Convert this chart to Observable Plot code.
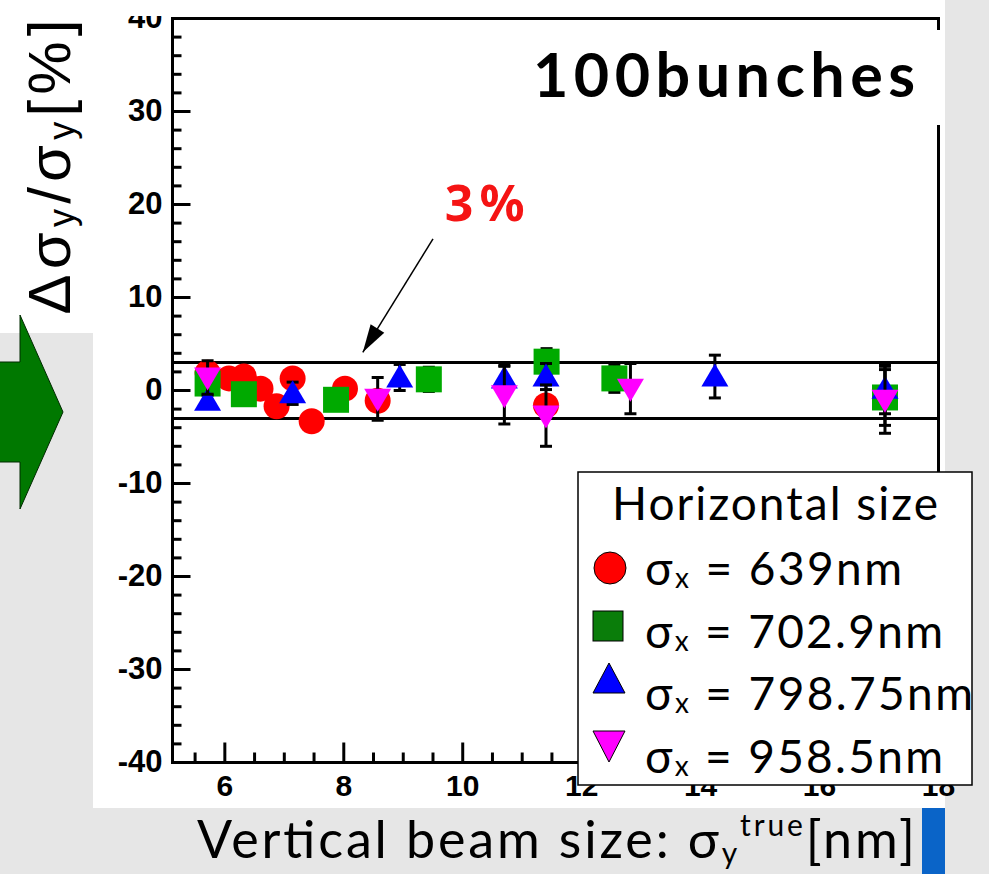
<!DOCTYPE html>
<html><head><meta charset="utf-8">
<script src="https://cdn.jsdelivr.net/npm/d3@7"></script>
<script src="https://cdn.jsdelivr.net/npm/@observablehq/plot@0.6"></script>
<style>
html,body{margin:0;padding:0;background:#e6e6e6;}
#wrap{position:relative;width:989px;height:874px;overflow:hidden;background:#e6e6e6;}
.layer{position:absolute;left:0;top:0;}
</style></head><body><div id="wrap">
<div class="layer" style="left:93px;top:0;width:852px;height:808px;background:#fff"></div>
<div class="layer" style="left:0;top:0;width:93px;height:333px;background:#fff"></div>
<svg class="layer" width="989" height="874"><polygon points="-5,362 20,362 20,315 63,412 20,509 20,462 -5,462" fill="#007800" stroke="#002a00" stroke-width="1"/></svg>
<div id="plot" class="layer"></div>
<svg id="over" class="layer" width="989" height="874" font-family="Lato, 'Noto Sans', sans-serif">
  <rect x="93" y="0" width="79" height="16" fill="#fff"/>
  <text transform="translate(70,167) rotate(-90)" text-anchor="middle" font-family="'Liberation Sans', Arial, sans-serif" font-size="60" textLength="295" lengthAdjust="spacing">Δσ<tspan font-size="36" dy="4">y</tspan><tspan dy="-4">/σ</tspan><tspan font-size="36" dy="4">y</tspan><tspan dy="-4">[%]</tspan></text>
  <text x="197" y="858" font-size="52" textLength="718" lengthAdjust="spacing">Vertical beam size: σ<tspan font-size="30" dy="6">y</tspan><tspan font-size="30" dy="-28">true</tspan><tspan dy="22">[nm]</tspan></text>
  <rect x="520" y="30" width="425" height="95" fill="#fff"/>
  <text x="533" y="97" font-size="61" font-weight="700" textLength="382" lengthAdjust="spacing">100bunches</text>
  <rect x="578" y="472" width="394" height="313" fill="#fff" stroke="#000" stroke-width="1.5"/>
  <text x="612" y="520" font-size="46" textLength="326" lengthAdjust="spacing">Horizontal size</text>
  <circle cx="610" cy="568" r="16" fill="#ff0000" stroke="#000" stroke-width="1"/>
  <rect x="593" y="611" width="30" height="30" fill="#0a7d0a" stroke="#000" stroke-width="1"/>
  <polygon points="609,663 625,693 593,693" fill="#0000ff" stroke="#000" stroke-width="1"/>
  <polygon points="593,731 625,731 609,762" fill="#ff00ff" stroke="#000" stroke-width="1"/>
  <text x="645" y="585" font-size="46" textLength="257" lengthAdjust="spacing">σ<tspan font-size="28" dy="3">x</tspan><tspan dy="-3"> = 639nm</tspan></text>
  <text x="645" y="648" font-size="46" textLength="298" lengthAdjust="spacing">σ<tspan font-size="28" dy="3">x</tspan><tspan dy="-3"> = 702.9nm</tspan></text>
  <text x="645" y="710" font-size="46" textLength="328" lengthAdjust="spacing">σ<tspan font-size="28" dy="3">x</tspan><tspan dy="-3"> = 798.75nm</tspan></text>
  <text x="645" y="773" font-size="46" textLength="298" lengthAdjust="spacing">σ<tspan font-size="28" dy="3">x</tspan><tspan dy="-3"> = 958.5nm</tspan></text>
  <rect x="922" y="808" width="23" height="66" fill="#0a64c8"/>
</svg>
</div>
<script>
// ---- data ----
const redX = [5.71, 6.07, 6.32, 6.6, 6.87, 7.14, 7.46, 8.02, 8.57, 11.4];
const redY = [1.9, 1.3, 1.5, 0.2, -1.7, 1.3, -3.3, 0.2, -1.1, -1.6];
const redErr = [0.3, 0.3, 0.3, 0.3, 0.3, 0.3, 0.3, 0.3, 0.3, 0.9];

const greenX = [5.71, 6.32, 7.87, 9.43, 11.41, 12.55, 17.1];
const greenY = [0.75, -0.4, -1.0, 1.2, 3.1, 1.3, -0.75];
const greenErr = [0.6, 0.4, 0.4, 1.3, 1.4, 1.5, 3.0];

const blueX = [5.71, 7.14, 8.94, 10.7, 11.4, 14.24, 17.1];
const blueY = [-1.1, -0.3, 1.4, 1.3, 1.5, 1.5, 0.2];
const blueErr = [0.6, 1.2, 1.4, 1.4, 1.4, 2.3, 2.7];

const magentaX = [5.71, 8.57, 10.7, 11.4, 12.82, 17.1];
const magentaY = [1.4, -0.9, -0.5, -2.7, 0.2, -1.0];
const magentaErr = [1.8, 2.3, 3.1, 3.3, 2.7, 3.6];

const bandLines = [3, -3];
const xDomain = [5.12, 18];
const yDomain = [-40, 40];
const xMajor = [6, 8, 10, 12, 14, 16, 18];
const xMinor = [5.5, 6.5, 7, 7.5, 8.5, 9, 9.5, 10.5, 11, 11.5, 12.5, 13, 13.5, 14.5, 15, 15.5, 16.5, 17, 17.5];
const yMajor = [-40, -30, -20, -10, 0, 10, 20, 30, 40];
const yMinor = [-38, -36, -34, -32, -28, -26, -24, -22, -18, -16, -14, -12, -8, -6, -4, -2,
                2, 4, 6, 8, 12, 14, 16, 18, 22, 24, 26, 28, 32, 34, 36, 38];
const annotationText = ["3%"];
const annotationPos = [10.42, 19.9];
const arrowStart = [9.50, 16.3];
const arrowEnd = [8.32, 4.1];

// ---- build tables ----
const table = (xs, ys, es, s) => xs.map((x, i) => ({x, y: ys[i], e: es[i], s}));
const red = table(redX, redY, redErr, "red");
const green = table(greenX, greenY, greenErr, "green");
const blue = table(blueX, blueY, blueErr, "blue");
const magenta = table(magentaX, magentaY, magentaErr, "magenta");

const circleSym = {draw(c) { c.moveTo(13, 0); c.arc(0, 0, 13, 0, 2 * Math.PI); }};
const squareSym = {draw(c) { c.rect(-13, -13, 26, 26); }};
const triUp = {draw(c) { c.moveTo(0, -13); c.lineTo(13.5, 10); c.lineTo(-13.5, 10); c.closePath(); }};
const triDown = {draw(c) { c.moveTo(0, 13); c.lineTo(13.5, -10); c.lineTo(-13.5, -10); c.closePath(); }};
const capSym = {draw(c) { c.moveTo(-6, 0); c.lineTo(6, 0); }};
const headSym = {draw(c) { c.moveTo(0, 0); c.lineTo(-8, 28); c.lineTo(8, 28); c.closePath(); }};
const yTickMajor = {draw(c) { c.moveTo(0, 0); c.lineTo(18, 0); }};
const yTickMinor = {draw(c) { c.moveTo(0, 0); c.lineTo(9, 0); }};
const xTickMajor = {draw(c) { c.moveTo(0, 0); c.lineTo(0, -20); }};
const xTickMinor = {draw(c) { c.moveTo(0, 0); c.lineTo(0, -10); }};

const errorMarks = (rows) => [
  Plot.ruleX(rows, {x: "x", y1: d => d.y - d.e, y2: d => d.y + d.e, stroke: "black", strokeWidth: 3}),
  Plot.dot(rows, {x: "x", y: d => d.y + d.e, symbol: capSym, stroke: "black", strokeWidth: 3, fill: "none"}),
  Plot.dot(rows, {x: "x", y: d => d.y - d.e, symbol: capSym, stroke: "black", strokeWidth: 3, fill: "none"})
];
const tickStyle = {stroke: "black", strokeWidth: 3, fill: "none"};

const chart = Plot.plot({
  width: 989, height: 874,
  marginLeft: 172, marginRight: 51, marginTop: 18, marginBottom: 112,
  x: {domain: xDomain, axis: null},
  y: {domain: yDomain, axis: null},
  style: {background: "transparent", overflow: "visible", fontFamily: "'Liberation Sans', Arial, sans-serif"},
  marks: [
    Plot.ruleY(bandLines, {stroke: "black", strokeWidth: 3}),
    ...errorMarks(red),
    Plot.dot(red, {x: "x", y: "y", symbol: circleSym, fill: "#ff0000"}),
    ...errorMarks(green),
    Plot.dot(green, {x: "x", y: "y", symbol: squareSym, fill: "#00aa00"}),
    ...errorMarks(blue),
    Plot.dot(blue, {x: "x", y: "y", symbol: triUp, fill: "#0000ff"}),
    ...errorMarks(magenta),
    Plot.dot(magenta, {x: "x", y: "y", symbol: triDown, fill: "#ff00ff"}),
    Plot.dot(yMajor, {x: () => xDomain[0], y: d => d, symbol: yTickMajor, ...tickStyle}),
    Plot.dot(yMinor, {x: () => xDomain[0], y: d => d, symbol: yTickMinor, ...tickStyle}),
    Plot.dot(xMajor, {x: d => d, y: () => yDomain[0], symbol: xTickMajor, ...tickStyle}),
    Plot.dot(xMinor, {x: d => d, y: () => yDomain[0], symbol: xTickMinor, ...tickStyle}),
    Plot.frame({stroke: "black", strokeWidth: 3}),
    Plot.axisY(yMajor, {anchor: "left", tickSize: 0, tickPadding: 10, fontSize: 31, fontWeight: "bold", tickFormat: d => String(d), label: null}),
    Plot.axisX(xMajor, {anchor: "bottom", tickSize: 0, tickPadding: 12, fontSize: 30, fontWeight: "bold", tickFormat: d => String(d), label: null}),
    Plot.link([0], {x1: () => arrowStart[0], y1: () => arrowStart[1], x2: () => arrowEnd[0], y2: () => arrowEnd[1], stroke: "black", strokeWidth: 1.5}),
    Plot.dot([0], {x: () => arrowEnd[0], y: () => arrowEnd[1], symbol: headSym, fill: "black", rotate: 211.5}),
    Plot.text(annotationText, {x: () => annotationPos[0], y: () => annotationPos[1], text: d => d, fill: "#f51414", fontSize: 50, fontWeight: "bold", fontFamily: "'Noto Sans', sans-serif"})
  ]
});
document.getElementById("plot").appendChild(chart);
d3.select(chart).selectAll("text").filter(function() { return this.textContent === "3%"; }).attr("letter-spacing", 6);
</script>
</body></html>
